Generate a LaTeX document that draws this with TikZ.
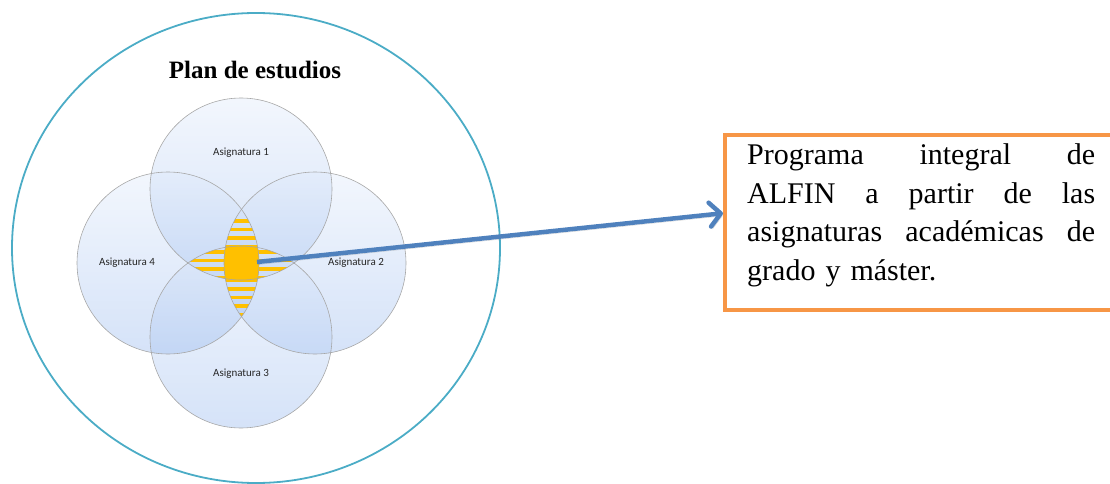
\documentclass[tikz,border=0pt]{standalone}
\usepackage{fontspec}
\setmainfont{Liberation Serif}
\newfontfamily\subjfont{Carlito}
\usepackage{xcolor}
\usepackage{tikz}
\usetikzlibrary{arrows.meta, positioning, calc}

\definecolor{venn}{RGB}{150,184,238}
\definecolor{rim}{RGB}{75,172,198}
\definecolor{arrowblue}{RGB}{79,129,189}
\definecolor{boxorange}{RGB}{247,150,70}
\definecolor{coreyellow}{RGB}{255,192,0}

\begin{document}
\begin{tikzpicture}[x=1pt, y=-1pt,
        plan/.style={draw=rim, line width=1.8pt},
        subject/.style={circle, minimum size=182pt, inner sep=0pt, top color=venn!30!white, bottom color=venn, fill opacity=0.4},
        subjline/.style={draw=gray!70, line width=0.6pt},
        subjlabel/.style={font=\subjfont\fontsize{11}{13}\selectfont, text=black!85, inner sep=1pt},
        title/.style={font=\bfseries\fontsize{25}{25}\selectfont, inner sep=0pt},
        stripe/.style={fill=coreyellow},
        flow/.style={line width=4.5pt, draw=arrowblue, -{Straight Barb[length=11pt, width=24pt, round]},
            preaction={draw=black!50, opacity=0.35, transform canvas={shift={(1.5pt,-2.5pt)}}}},
        progbox/.style={rectangle, draw=boxorange, line width=3.5pt, minimum width=400pt, minimum height=175pt, anchor=north west},
        progtext/.style={text width=348pt, align=left, inner sep=0pt, anchor=north west, font=\fontsize{30}{38.5}\selectfont}
    ]
        \useasboundingbox (0,0) rectangle (1110,484);

        % Outer curriculum
        \draw[plan] (256,248) ellipse [x radius=244, y radius=235];
        \node[title] (plantitle) at (255,70) {Plan de estudios};

        % Subjects
        \node[subject] (s1) at (241,189) {};
        \node[subject] (s2) at (315,263) {};
        \node[subject] (s3) at (241,337) {};
        \node[subject] (s4) at (168,263) {};

        % Common core
        \begin{scope}
            \clip (s4.center) circle [radius=91];
            \clip (s2.center) circle [radius=91];
            \foreach \yy in {219,227.5,...,320}
                \fill[stripe] (200,\yy) rectangle (290,\yy+3.5);
        \end{scope}
        \begin{scope}
            \clip (s1.center) circle [radius=91];
            \clip (s3.center) circle [radius=91];
            \foreach \yy in {250,258.5,...,280}
                \fill[stripe] (180,\yy) rectangle (300,\yy+3.5);
        \end{scope}
        \begin{scope}
            \clip (s1.center) circle [radius=91];
            \clip (s2.center) circle [radius=91];
            \clip (s3.center) circle [radius=91];
            \clip (s4.center) circle [radius=91];
            \fill[stripe] (200,200) rectangle (290,320);
        \end{scope}

        \foreach \s in {s1,s2,s3,s4}
            \draw[subjline] (\s.center) circle [radius=91];

        \node[subjlabel] (l1) at (241,153) {Asignatura 1};
        \node[subjlabel] (l2) at (356,263) {Asignatura 2};
        \node[subjlabel] (l3) at (241,374) {Asignatura 3};
        \node[subjlabel] (l4) at (127,263) {Asignatura 4};
        \coordinate (hub) at (257,262);

        % Programme
        \node[progbox] (prog) at (723,133) {};
        \node[progtext] (progtxt) at (747,143.5) {Programa\hfill integral\hfill de\\
            ALFIN\hfill a\hfill partir\hfill de\hfill las\\
            asignaturas\hfill académicas\hfill de\\
            grado y máster.};

        \draw[flow] (hub) -- ([yshift=9pt]prog.west);

    \end{tikzpicture}
\end{document}
